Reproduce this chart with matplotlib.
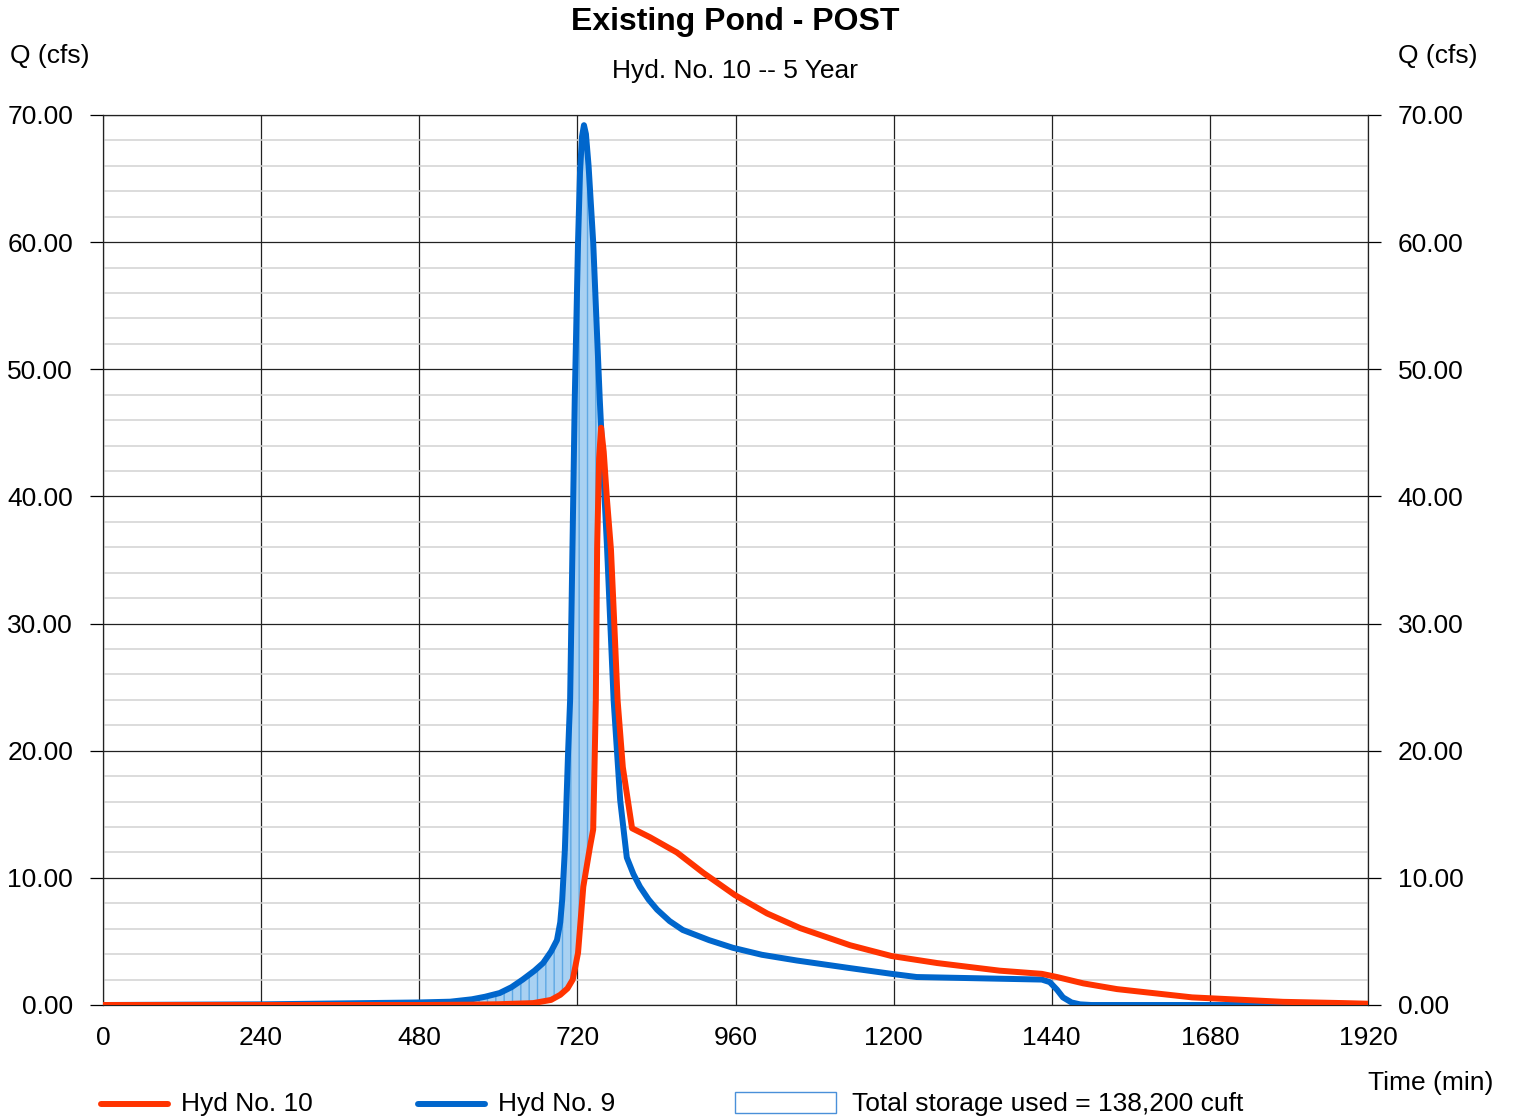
import numpy as np
import matplotlib
matplotlib.use("Agg")
import matplotlib.pyplot as plt
from matplotlib.lines import Line2D
from matplotlib.patches import Rectangle

plt.rcParams["font.family"] = ["Liberation Sans", "DejaVu Sans"]
plt.rcParams["hatch.linewidth"] = 1.0

# Hyd No. 9 (inflow)
t_in = [0, 240, 480, 527, 560, 580, 602, 620, 637, 655, 668, 680, 689, 694, 697, 701,
        706, 709, 716, 721, 724, 727, 730, 733, 737, 744, 754, 765, 775, 785, 795,
        805, 815, 828, 841, 860, 880, 920, 956, 1000, 1053, 1134, 1197, 1235, 1425,
        1437, 1448, 1457, 1470, 1483, 1500, 1920]
q_in = [0, 0.05, 0.2, 0.26, 0.45, 0.65, 0.94, 1.4, 2.0, 2.7, 3.3, 4.2, 5.1, 6.5, 8.3, 12.2,
        20.0, 24.0, 47.6, 60.0, 65.5, 68.3, 69.2, 68.5, 66.0, 60.0, 47.6, 36.0, 24.0, 16.1, 11.6,
        10.3, 9.3, 8.3, 7.5, 6.6, 5.9, 5.1, 4.5, 3.95, 3.5, 2.9, 2.45, 2.2, 2.0,
        1.8, 1.2, 0.6, 0.2, 0.05, 0.0, 0.0]

# Hyd No. 10 (outflow)
t_out = [0, 480, 560, 600, 653, 680, 694, 705, 713, 721, 729, 739, 744, 746, 748, 750,
         753, 756, 760, 765, 771, 776, 781, 789, 803, 830, 871, 911, 959, 1008, 1058,
         1134, 1197, 1266, 1361, 1425, 1448, 1488, 1539, 1653, 1791, 1883, 1920]
q_out = [0, 0.0, 0.03, 0.06, 0.15, 0.4, 0.8, 1.3, 2.0, 4.1, 9.3, 12.4, 13.8, 18.7, 24.0, 36.0,
         43.0, 45.4, 43.5, 39.7, 35.8, 30.0, 24.0, 18.7, 13.9, 13.2, 12.0, 10.4, 8.65, 7.2, 6.05,
         4.7, 3.85, 3.3, 2.7, 2.45, 2.2, 1.7, 1.25, 0.6, 0.25, 0.15, 0.1]

x_ticks = [0, 240, 480, 720, 960, 1200, 1440, 1680, 1920]
y_ticks = [0, 10, 20, 30, 40, 50, 60, 70]

RED = "#ff3300"
BLUE = "#0066cc"

fig = plt.figure(figsize=(15.14, 11.18), dpi=100)
ax = fig.add_axes([103 / 1514, 1 - 1005 / 1118, 1265 / 1514, 890 / 1118])

# storage area between inflow and outflow
tt = np.union1d(t_in, t_out)
qi = np.interp(tt, t_in, q_in)
qo = np.interp(tt, t_out, q_out)
ax.fill_between(tt, qo, qi, where=(qi > qo) & (tt < 800), interpolate=True,
                facecolor="#a9d1f2", edgecolor="#5ea8e4", hatch="||", linewidth=0, zorder=2)

ax.plot(t_in, q_in, color=BLUE, lw=4.3, solid_joinstyle="round", solid_capstyle="round", zorder=3)
ax.plot(t_out, q_out, color=RED, lw=4.3, solid_joinstyle="round", solid_capstyle="round", zorder=4)

ax.set_xlim(0, 1920)
ax.set_ylim(0, 70)
ax.set_xticks(x_ticks)
ax.set_xticklabels([str(v) for v in x_ticks])
ax.set_yticks(y_ticks)
ax.set_yticklabels([f"{v:.2f}" for v in y_ticks])
ax.set_yticks(np.arange(0, 70, 2), minor=True)

ax.grid(True, which="major", axis="both", color="#222222", lw=0.9, zorder=1)
ax.grid(True, which="minor", axis="y", color="#d2d2d2", lw=1.1, zorder=0)
ax.set_axisbelow(True)

ax.tick_params(axis="y", which="major", left=True, right=True, labelleft=True,
               labelright=True, direction="out", length=9.5, width=0.9, pad=12,
               labelsize=19)
ax.tick_params(axis="y", which="minor", left=False, right=False)
ax.tick_params(axis="x", which="major", length=0, pad=15, labelsize=19)
for s in ax.spines.values():
    s.set_linewidth(0.9)
    s.set_color("#222222")

fig.text(735.5 / 1514, 1 - 22 / 1118, "Existing Pond - POST", ha="center", va="center",
         fontsize=23, fontweight="bold")
fig.text(735.5 / 1514, 1 - 71 / 1118, "Hyd. No. 10 -- 5 Year", ha="center", va="center",
         fontsize=19)
fig.text(10 / 1514, 1 - 56 / 1118, "Q (cfs)", ha="left", va="center", fontsize=19)
fig.text(1398 / 1514, 1 - 56 / 1118, "Q (cfs)", ha="left", va="center", fontsize=19)
fig.text(1368 / 1514, 1 - 1083 / 1118, "Time (min)", ha="left", va="center", fontsize=19)

# legend row
ly = 1 - 1104 / 1118
fig.add_artist(Line2D([101 / 1514, 168 / 1514], [ly, ly], color=RED, lw=4.3,
                      solid_capstyle="round"))
fig.text(181 / 1514, ly, "Hyd No. 10", ha="left", va="center", fontsize=19)
fig.add_artist(Line2D([418 / 1514, 485 / 1514], [ly, ly], color=BLUE, lw=4.3,
                      solid_capstyle="round"))
fig.text(498 / 1514, ly, "Hyd No. 9", ha="left", va="center", fontsize=19)
fig.add_artist(Rectangle((735 / 1514, 1 - 1113 / 1118), 101 / 1514, 21 / 1118,
                         facecolor="white", edgecolor="#4a90d9", lw=1.0,
                         transform=fig.transFigure))
fig.text(852 / 1514, ly, "Total storage used = 138,200 cuft", ha="left", va="center",
         fontsize=19)

fig.savefig("out.png", dpi=100)
